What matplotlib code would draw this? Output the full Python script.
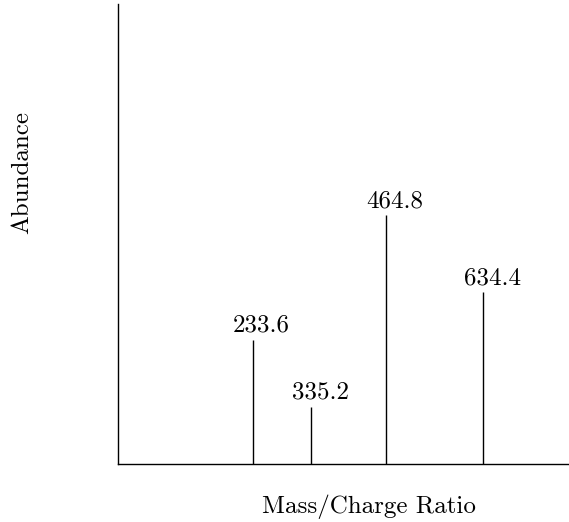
import matplotlib
matplotlib.use("Agg")
import matplotlib.pyplot as plt

# --- data: peak m/z values and their relative abundances -----------------------
mz = [233.6, 335.2, 464.8, 634.4]
abundance = [50, 23, 100, 69]
peak_labels = ["233.6", "335.2", "464.8", "634.4"]

plt.rcParams["font.family"] = ["cmr10", "DejaVu Serif"]
plt.rcParams["mathtext.fontset"] = "cm"

fig = plt.figure(figsize=(5.69, 5.22), dpi=100)
ax = fig.add_axes([118 / 569, 58 / 522, 451 / 569, 460 / 522])

ax.vlines(mz, 0, abundance, color="black", lw=1.0)
# labels sit a little right of and above each peak
for x, h, lab in zip(mz, abundance, peak_labels):
    ax.annotate(lab, xy=(x, h), xytext=(6.5, 6), textcoords="offset points",
                ha="center", va="baseline", fontsize=18)

ax.set_xlim(0, 783)
ax.set_ylim(0, 185)
ax.set_xticks([])
ax.set_yticks([])
for spine in ("top", "right"):
    ax.spines[spine].set_visible(False)
for spine in ("left", "bottom"):
    ax.spines[spine].set_linewidth(1.0)

ax.set_xlabel("Mass/Charge Ratio", fontsize=18, va="baseline", ha="center")
ax.xaxis.set_label_coords((368.5 - 118) / 451, (464 - 513) / 460)
ax.set_ylabel("Abundance", fontsize=18, va="center", ha="center")
ax.yaxis.set_label_coords((22 - 118) / 451, (464 - 172) / 460)

fig.savefig("out.png", dpi=100)
